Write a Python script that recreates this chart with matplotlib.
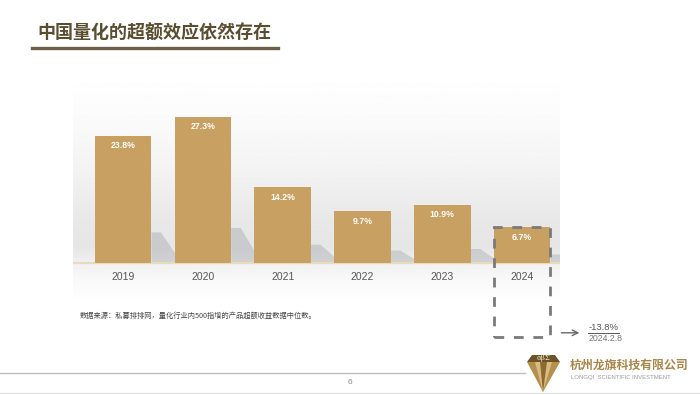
#!/usr/bin/env python3
"""Bar chart: median excess return of quant 500-enhanced products, 2019-2024."""

import matplotlib
matplotlib.use("Agg")
import matplotlib.pyplot as plt
import numpy as np
from matplotlib.lines import Line2D
from matplotlib.patches import Polygon, Rectangle

plt.rcParams["font.family"] = ["Noto Sans CJK SC", "DejaVu Sans"]

# ---------------------------------------------------------------------------
# Data
# ---------------------------------------------------------------------------
years = ["2019", "2020", "2021", "2022", "2023", "2024"]
excess = [23.8, 27.3, 14.2, 9.7, 10.9, 6.7]
latest_value = -13.8
latest_date = "2024.2.8"

title = "中国量化的超额效应依然存在"
source_note = "数据来源：私募排排网，量化行业内500指增的产品超额收益数据中位数。"

BAR = "#C8A062"
W, H = 700, 395

# ---------------------------------------------------------------------------
# Figure (decorations placed in pixels from top-left)
# ---------------------------------------------------------------------------
fig = plt.figure(figsize=(W / 100, H / 100), dpi=100)
fig.patch.set_facecolor("white")


def px(x, y):
    return x / W, 1 - y / H


# -- Title + rule -------------------------------------------------------------
fig.text(*px(37, 33), title, fontsize=13, fontweight="bold",
         color="#5A4E30", ha="left", va="center")
fig.add_artist(Line2D([32 / W, 278 / W], [1 - 48 / H] * 2,
                      color="#6D6047", lw=2.4))

# -- Chart axes ---------------------------------------------------------------
ax = fig.add_axes([73 / W, 1 - 303 / H, 487 / W, 230 / H])
ax.set_xlim(-0.627, 5.476)
ax.set_ylim(-7.48, 35.51)
for s in ax.spines.values():
    s.set_visible(False)
ax.set_xticks([])
ax.set_yticks([])

# soft grey backdrop, darkest just above the base line
yy = np.linspace(-7.48, 35.51, 300)
shade = np.interp(yy, [-7.48, -3, 0, 3, 8, 18, 28, 35.51],
                  [1.0, 0.975, 0.945, 0.90, 0.91, 0.955, 0.985, 1.0])
grad = np.repeat(shade[:, None], 2, axis=1)
ax.imshow(grad, cmap="gray", vmin=0, vmax=1, aspect="auto",
          extent=(-0.627, 5.476, -7.48, 35.51), origin="lower", zorder=0)

x = np.arange(len(years))
bw = 0.71

# soft shadows to the right of each bar
for xi, v in zip(x, excess):
    r = xi + bw / 2
    s = v * 0.24
    ax.add_patch(Polygon([(r, 0), (r, s), (r + 0.12, s), (r + 0.38, 0)],
                         closed=True, facecolor="#A7ABB2", alpha=0.45,
                         edgecolor="none", zorder=1))

ax.bar(x, excess, width=bw, color=BAR, edgecolor="none", zorder=3)
ax.axhline(0, color="#E8DBBE", lw=1.6, zorder=2)

for xi, v, yr in zip(x, excess, years):
    ax.annotate(f"{v}%", (xi, v), xytext=(0, -10), textcoords="offset pixels",
                ha="center", va="center", fontsize=6.3, fontweight="bold",
                color="white", family="Liberation Sans", zorder=4)
    ax.annotate(yr, (xi, 0), xytext=(0, -14), textcoords="offset pixels",
                ha="center", va="center", fontsize=7.5, color="#555555",
                family="Liberation Sans", annotation_clip=False)

# dashed box down to the latest 2024 reading
last = len(years) - 1
ax.add_patch(Rectangle((last - bw / 2, latest_value), bw,
                       excess[last] - latest_value, fill=False,
                       edgecolor="#7A7A7A", lw=2.0, linestyle=(0, (3.5, 3.5)),
                       clip_on=False, zorder=5))
corner = ax.transData.transform((last + bw / 2, latest_value))
cx, cy = corner[0], corner[1] + 4
ax.annotate("", xy=(cx + 29, cy), xycoords="figure pixels",
            xytext=(cx + 11, cy), textcoords="figure pixels",
            arrowprops=dict(arrowstyle="->", color="#666666", lw=1.0,
                            shrinkA=0, shrinkB=0))
fig.text((cx + 38) / W, (cy + 5) / H, f"{latest_value}%", fontsize=6.8,
         color="#555555", family="Liberation Sans", ha="left", va="center")
fig.text((cx + 38) / W, (cy - 6) / H, latest_date, fontsize=6.3,
         color="#777777", family="Liberation Sans", ha="left", va="center")
fig.add_artist(Line2D([(cx + 38) / W, (cx + 69) / W], [(cy - 0.5) / H] * 2,
                      color="#555555", lw=0.7))

# -- Source note --------------------------------------------------------------
fig.text(*px(80, 316), source_note, fontsize=5.2, color="#444444",
         ha="left", va="center")

# -- Footer -------------------------------------------------------------------
fig.add_artist(Line2D([0, 525 / W], [1 - 373 / H] * 2, color="#BDBDBD", lw=1.0))
fig.add_artist(Line2D([0, 1], [1 - 393 / H] * 2, color="#E3E3E3", lw=1.0))
fig.text(*px(350, 383), "6", fontsize=6, color="#888888", ha="center",
         va="center", family="Liberation Sans")


def poly(pts, color):
    fig.add_artist(Polygon([px(a, b) for a, b in pts], closed=True,
                           facecolor=color, edgecolor="none",
                           transform=fig.transFigure))


# logo diamond
poly([(527, 362), (532, 355), (555, 355), (560, 362)], "#6B5427")
poly([(527, 362), (560, 362), (543, 392)], "#B58F4C")
poly([(535, 362), (552, 362), (543, 392)], "#D8BB82")
poly([(540, 362), (547, 362), (543, 392)], "#8C6A30")
fig.text(*px(543.5, 358.5), "αβΣ", fontsize=5, color="#F4E6C4", ha="center",
         va="center", family="DejaVu Serif")
fig.text(*px(570, 365), "杭州龙旗科技有限公司", fontsize=8.6,
         fontweight="bold", color="#A8864A", ha="left", va="center")
fig.text(*px(571, 378), "LONGQI  SCIENTIFIC INVESTMENT", fontsize=4.3,
         color="#9A9A9A", ha="left", va="center", family="Liberation Sans")

fig.savefig("out.png", dpi=100, facecolor="white")
plt.close(fig)
